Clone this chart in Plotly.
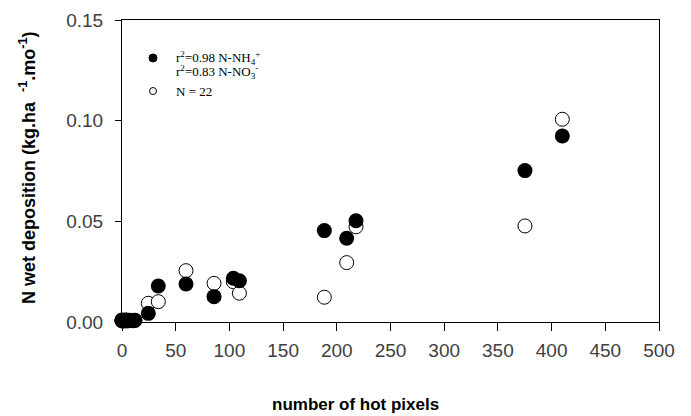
import plotly.graph_objects as go

# Data: number of hot pixels vs N wet deposition (kg.ha-1.mo-1)
hot_pixels = [0, 0, 1, 2, 3, 4, 5, 6, 8, 10, 12,
              24.5, 33.8, 59.6, 85.7, 103.7, 109.3, 188.4, 209.2, 217.9, 375.2, 410]
nh4 = [0.0008, 0.0010, 0.0006, 0.0009, 0.0007, 0.0010, 0.0008, 0.0006, 0.0009, 0.0007, 0.0008,
       0.0043, 0.0179, 0.0189, 0.0126, 0.0217, 0.0205, 0.0454, 0.0416, 0.0503, 0.0752, 0.0924]
no3 = [0.0005, 0.0008, 0.0006, 0.0007, 0.0005, 0.0009, 0.0006, 0.0008, 0.0007, 0.0006, 0.0009,
       0.0093, 0.0101, 0.0255, 0.0192, 0.0200, 0.0143, 0.0123, 0.0295, 0.0473, 0.0477, 0.1007]

x_ticks = [0, 50, 100, 150, 200, 250, 300, 350, 400, 450, 500]
y_ticks = [0.00, 0.05, 0.10, 0.15]
y_tick_text = ["0.00", "0.05", "0.10", "0.15"]

W, H = 691, 416
L, R, T, B = 122, 32, 20, 94
PW, PH = W - L - R, H - T - B

def px(xp):
    return (xp - L) / PW

def py(yp):
    return (H - B - yp) / PH

fig = go.Figure()
fig.add_trace(go.Scatter(
    x=hot_pixels, y=no3, mode="markers", cliponaxis=False, showlegend=False,
    marker=dict(size=14, color="white", line=dict(color="black", width=1))))
fig.add_trace(go.Scatter(
    x=hot_pixels, y=nh4, mode="markers", cliponaxis=False, showlegend=False,
    marker=dict(size=15, color="black", line=dict(color="black", width=0))))

tick_font = dict(family="Liberation Sans, Arial, sans-serif", size=19, color="#404040")
fig.update_xaxes(range=[0, 500], tickvals=x_ticks, ticks="outside", ticklen=8,
                 tickcolor="black", showline=True, linecolor="black", linewidth=1,
                 mirror=True, showgrid=False, zeroline=False, tickfont=tick_font,
                 ticklabelstandoff=3)
fig.update_yaxes(range=[0, 0.15], tickvals=y_ticks, ticktext=y_tick_text, ticks="outside",
                 ticklen=6, tickcolor="black", showline=True, linecolor="black", linewidth=1,
                 mirror=True, showgrid=False, zeroline=False, tickfont=tick_font,
                 ticklabelstandoff=8)

title_font = dict(family="Liberation Sans, Arial, sans-serif", size=17, color="black")
ytitle_font = dict(family="Liberation Sans, Arial, sans-serif", size=18, color="black")
serif = dict(family="Liberation Serif, Times New Roman, serif", size=13, color="black")

annotations = [
    dict(text="<b>number of hot pixels</b>", x=px(355), y=py(404), xref="paper", yref="paper",
         showarrow=False, font=title_font, xanchor="center", yanchor="middle"),
    dict(text="<b>N wet deposition (kg.ha&nbsp;&nbsp;<sup>-1</sup>.mo<sup>-1</sup>)</b>",
         x=px(28), y=py(168), xref="paper", yref="paper", textangle=-90,
         showarrow=False, font=ytitle_font, xanchor="center", yanchor="middle"),
    dict(text="r<sup>2</sup>=0.98 N-NH<sub>4</sub><sup>+</sup>", x=px(174), y=py(58),
         xref="paper", yref="paper", showarrow=False, font=serif, xanchor="left", yanchor="middle"),
    dict(text="r<sup>2</sup>=0.83 N-NO<sub>3</sub><sup>-</sup>", x=px(174), y=py(72),
         xref="paper", yref="paper", showarrow=False, font=serif, xanchor="left", yanchor="middle"),
    dict(text="N = 22", x=px(174), y=py(91),
         xref="paper", yref="paper", showarrow=False, font=serif, xanchor="left", yanchor="middle"),
]

shapes = [
    dict(type="circle", xref="paper", yref="paper", xsizemode="pixel", ysizemode="pixel",
         xanchor=px(153), yanchor=py(58), x0=-4, x1=4, y0=-4, y1=4,
         fillcolor="black", line=dict(color="black", width=1)),
    dict(type="circle", xref="paper", yref="paper", xsizemode="pixel", ysizemode="pixel",
         xanchor=px(153), yanchor=py(91), x0=-3.5, x1=3.5, y0=-3.5, y1=3.5,
         fillcolor="white", line=dict(color="black", width=1)),
]

fig.update_layout(width=W, height=H, margin=dict(l=L, r=R, t=T, b=B, autoexpand=False),
                  plot_bgcolor="white", paper_bgcolor="white",
                  annotations=annotations, shapes=shapes)

fig.write_html("out.html")
